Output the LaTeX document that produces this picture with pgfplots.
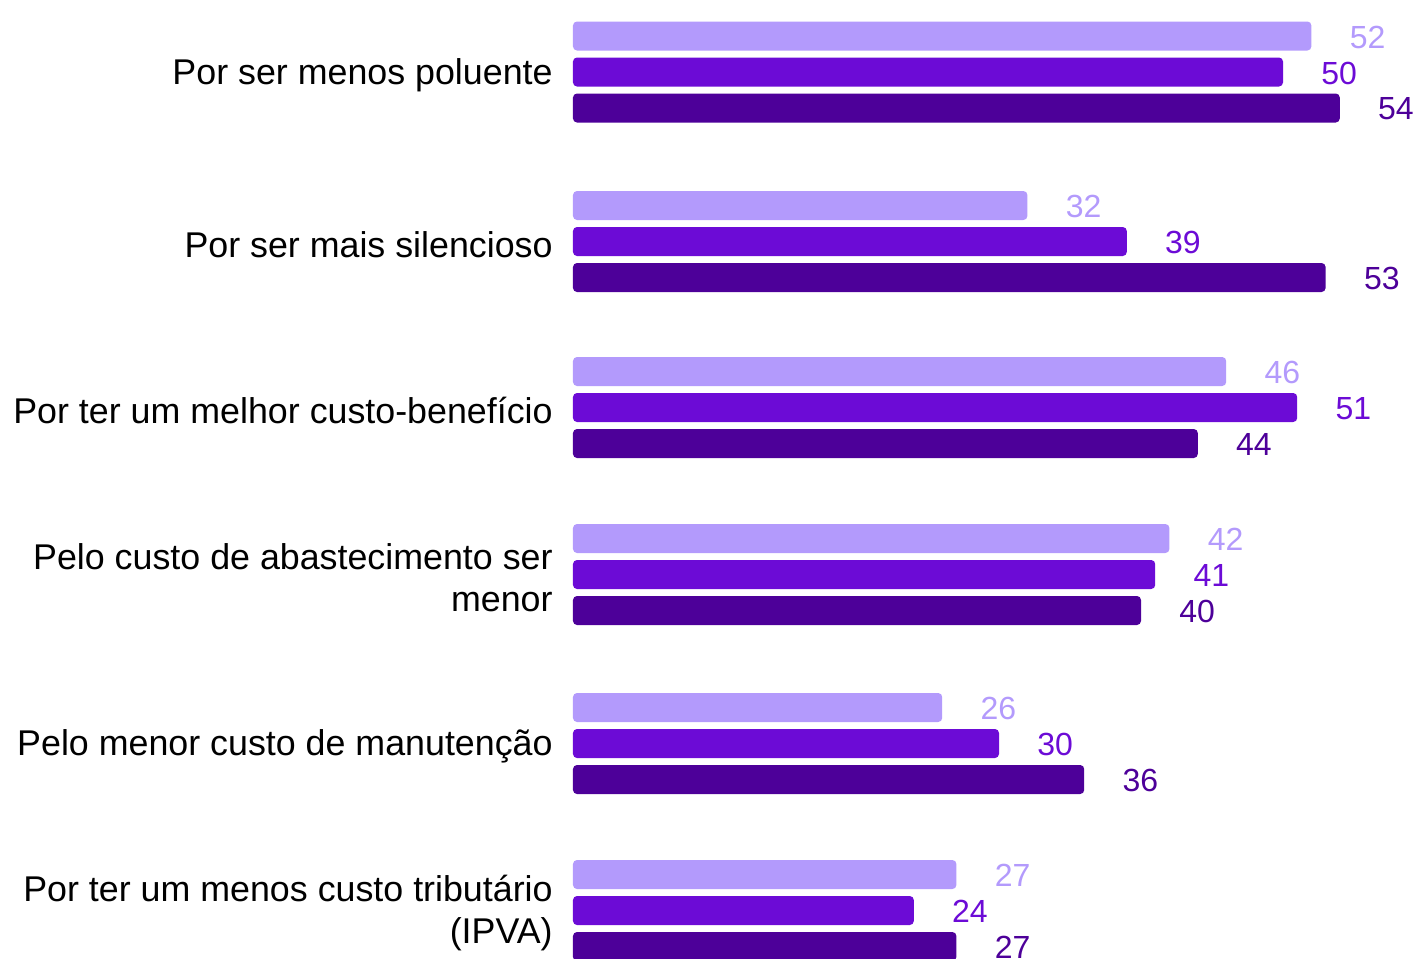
\documentclass[border=0pt]{standalone}
\usepackage{pgfplots}
\pgfplotsset{compat=1.18}
\usepackage{fontspec}
\setmainfont{Liberation Sans}
\definecolor{cA}{HTML}{B39AFC}
\definecolor{cB}{HTML}{6C0BD6}
\definecolor{cC}{HTML}{4D0099}
\begin{document}
\begin{tikzpicture}
\begin{axis}[
  scale only axis,
  width=423.5pt, height=479pt,
  xmin=0, xmax=59.648,
  ymin=0, ymax=958, y dir=reverse,
  clip=false,
  xbar, bar width=14.5pt,
  axis line style={draw=none},
  major tick length=0pt,
  xtick=\empty,
  ytick={72,241.5,407.5,574.5,743.5,910.5},
  yticklabels={Por ser menos poluente,Por ser mais silencioso,Por ter um melhor custo-benefício,{Pelo custo de abastecimento ser\\menor},Pelo menor custo de manutenção,{Por ter um menos custo tributário\\(IPVA)}},
  yticklabel style={inner sep=0pt, xshift=-10pt, yshift=-1.5pt, align=right, font=\fontsize{17.9}{21}\selectfont, text=black},
  nodes near coords,
  point meta=explicit symbolic,
  every node near coord/.append style={anchor=west, inner sep=0pt, xshift=19pt, yshift=-0.5pt, font=\fontsize{16}{18}\selectfont},
]
\addplot[fill=cA, draw=none, rounded corners=2pt, bar shift=18pt, every node near coord/.append style={text=cA}] coordinates {
(52,72)[52] (32,241.5)[32] (46,407.5)[46] (42,574.5)[42] (26,743.5)[26] (27,910.5)[27]};
\addplot[fill=cB, draw=none, rounded corners=2pt, bar shift=0pt, every node near coord/.append style={text=cB}] coordinates {
(50,72)[50] (39,241.5)[39] (51,407.5)[51] (41,574.5)[41] (30,743.5)[30] (24,910.5)[24]};
\addplot[fill=cC, draw=none, rounded corners=2pt, bar shift=-18pt, every node near coord/.append style={text=cC}] coordinates {
(54,72)[54] (53,241.5)[53] (44,407.5)[44] (40,574.5)[40] (36,743.5)[36] (27,910.5)[27]};
\end{axis}
\pgfresetboundingbox
\path ([xshift=-286.5pt]current axis.south west) rectangle (current axis.north east);
\end{tikzpicture}
\end{document}
